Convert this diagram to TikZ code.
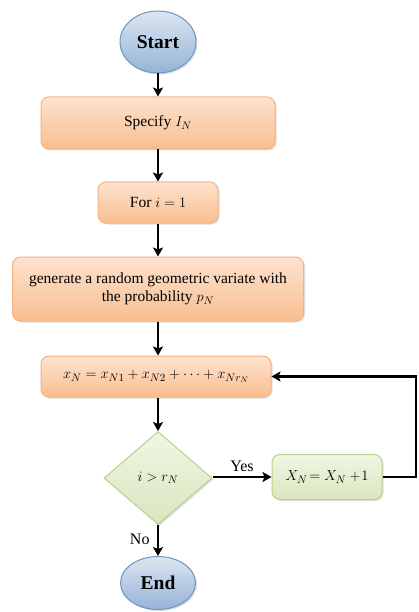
\documentclass[tikz,border=0pt]{standalone}
\usepackage{fontspec}
\setmainfont{Liberation Serif}
\usetikzlibrary{shapes.geometric,arrows.meta,shadows}
\definecolor{bluetop}{HTML}{DCE6F2}
\definecolor{bluebot}{HTML}{95B3D7}
\definecolor{blueline}{HTML}{6F93C4}
\definecolor{ortop}{HTML}{FDE3CF}
\definecolor{orbot}{HTML}{F9BE8F}
\definecolor{orline}{HTML}{F4B183}
\definecolor{grtop}{HTML}{F0F6E4}
\definecolor{grbot}{HTML}{D8E6BE}
\definecolor{grline}{HTML}{B9D18A}
\tikzset{
  base/.style={line width=1pt, align=center, inner sep=2pt, font=\fontsize{15.5}{18}\selectfont,
    drop shadow={shadow xshift=1.5pt, shadow yshift=-1.5pt, opacity=0.25}},
  term/.style={base, ellipse, draw=blueline, top color=bluetop, bottom color=bluebot,
    font=\fontsize{19.5}{22}\selectfont\bfseries},
  procbox/.style={base, rectangle, rounded corners=8pt, draw=orline, top color=ortop, bottom color=orbot},
  decbox/.style={base, diamond, draw=grline, top color=grtop, bottom color=grbot, inner sep=0pt},
  incbox/.style={base, rectangle, rounded corners=8pt, draw=grline, top color=grtop, bottom color=grbot},
  arr/.style={line width=2.3pt, -{Stealth[length=9pt,width=10pt,inset=2pt]}},
  lbl/.style={font=\fontsize{16}{18}\selectfont}
}
\begin{document}
\begin{tikzpicture}[x=1pt,y=-1pt]
\useasboundingbox (0,0) rectangle (419,612);
\node[term, minimum width=76pt, minimum height=62pt] (start) at (158,42) {Start};
\node[procbox, minimum width=234pt, minimum height=52pt] (spec) at (158,123) {Specify $I_N$};
\node[procbox, minimum width=120pt, minimum height=41pt] (for) at (158,202.5) {For $i = 1$};
\node[procbox, minimum width=291pt, minimum height=64pt] (gen) at (158,289)
  {generate a random geometric variate with\\the probability $p_N$};
\node[procbox, minimum width=230pt, minimum height=41pt] (xn) at (156,376.5)
  {$x_N = x_{N1} + x_{N2} + \cdots + x_{Nr_N}$};
\node[decbox, minimum width=108pt, minimum height=93pt] (dec) at (158,478) {$i > r_N$};
\node[incbox, minimum width=110pt, minimum height=45pt] (inc) at (327,477) {$X_N\!= X_N +\!1$};
\node[term, minimum width=75pt, minimum height=53pt] (end) at (158,583) {End};
\coordinate (corner) at (416,477);

\draw[arr] (start) -- (spec);
\draw[arr] (spec) -- (for);
\draw[arr] (for) -- (gen);
\draw[arr] (gen.south) -- (gen.south |- xn.north);
\draw[arr] (gen.south |- xn.south) -- (dec.north);
\draw[arr] (dec.east |- inc.west) -- node[lbl, above=1pt] {Yes} (inc.west);
\draw[arr] (dec.south) -- node[lbl, left=4pt, pos=0.45] {No} (end.north);
\draw[arr] (inc.east) -- (corner) |- (xn.east);
\end{tikzpicture}
\end{document}
